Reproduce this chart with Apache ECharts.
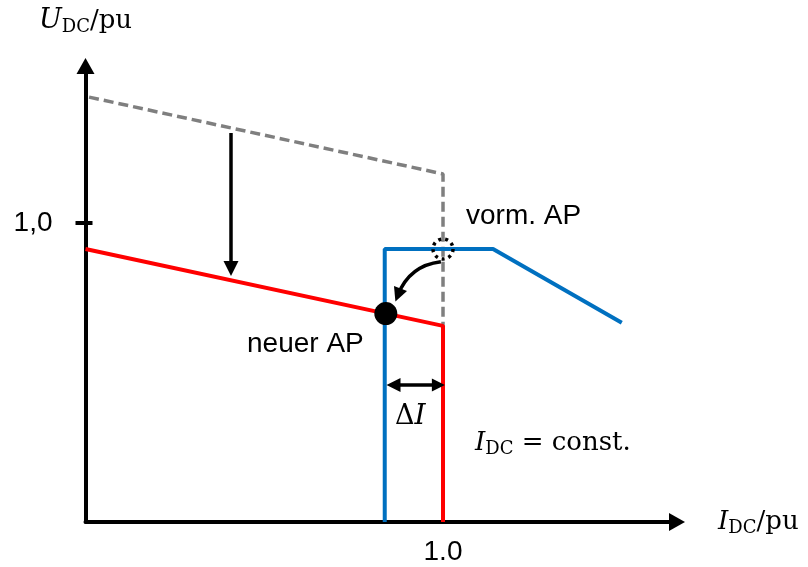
<!DOCTYPE html>
<html>
<head>
<meta charset="utf-8">
<script src="https://cdn.jsdelivr.net/npm/echarts@6/dist/echarts.min.js"></script>
<style>
  html, body { margin: 0; padding: 0; background: #ffffff; }
  #chart { width: 808px; height: 567px; }
</style>
</head>
<body>
<div id="chart"></div>
<script>
// Characteristics in per-unit: [I_DC, U_DC]
const oldCharacteristic = [[0.01, 1.421], [1.0, 1.164], [1.0, 0.652]];
const newCharacteristic = [[0.0, 0.913], [1.0, 0.656], [1.0, 0.0]];
const stationCharacteristic = [[0.837, 0.0], [0.837, 0.913], [1.14, 0.913], [1.50, 0.666]];
const previousPoint = [[1.0, 0.913]];
const newPoint = [[0.84, 0.697]];
const shiftArrow = [[0.407, 1.301], [0.407, 0.848]];
const deltaArrow = [[0.8615, 0.458], [0.987, 0.458]];
const moveArrow = [[0.994, 0.870], [0.874, 0.759]];
const xTickValues = [1];
const yTickValues = [1];
const xTickLabels = ['1.0'];
const yTickLabels = ['1,0'];

const serif = '"DejaVu Serif", "Liberation Serif", serif';
const sans = '"Liberation Sans", Arial, sans-serif';

const chart = echarts.init(document.getElementById('chart'), null, { renderer: 'canvas' });

const axisLineStyle = { color: '#000000', width: 4 };

chart.setOption({
  animation: false,
  backgroundColor: '#ffffff',
  grid: { left: 85.5, top: 66, width: 591.5, height: 456 },
  xAxis: {
    type: 'value', min: 0, max: 1.6545,
    splitLine: { show: false },
    axisTick: { show: false },
    axisLine: { show: true, onZero: false, lineStyle: axisLineStyle,
      symbol: ['none', 'triangle'], symbolSize: [18, 16] },
    axisLabel: {
      customValues: xTickValues,
      formatter: v => xTickLabels[xTickValues.indexOf(v)] || '',
      fontFamily: sans, fontSize: 28, color: '#000', margin: 16
    },
    name: '{i|I}{s|DC}{n|/pu}',
    nameLocation: 'end',
    nameGap: 41,
    nameTextStyle: {
      rich: {
        i: { fontFamily: serif, fontStyle: 'italic', fontSize: 26, lineHeight: 30, color: '#000' },
        s: { fontFamily: serif, fontSize: 18, lineHeight: 16, verticalAlign: 'bottom', color: '#000' },
        n: { fontFamily: serif, fontSize: 26, lineHeight: 30, color: '#000' }
      }
    }
  },
  yAxis: [{
    type: 'value', min: 0, max: 1.525,
    splitLine: { show: false },
    axisLine: { show: true, onZero: false, lineStyle: axisLineStyle,
      symbol: ['none', 'triangle'], symbolSize: [18, 16] },
    axisTick: { show: true, customValues: yTickValues, length: 10, inside: false,
      lineStyle: { color: '#000', width: 4 } },
    axisLabel: {
      customValues: yTickValues,
      formatter: v => yTickLabels[yTickValues.indexOf(v)] || '',
      fontFamily: sans, fontSize: 28, color: '#000', margin: 33
    },
    name: '{i|U}{s|DC}{n|/pu}',
    nameLocation: 'end',
    nameGap: 30,
    nameTextStyle: {
      rich: {
        i: { fontFamily: serif, fontStyle: 'italic', fontSize: 27, lineHeight: 30, color: '#000' },
        s: { fontFamily: serif, fontSize: 18, lineHeight: 16, verticalAlign: 'bottom', color: '#000' },
        n: { fontFamily: serif, fontSize: 26, lineHeight: 30, color: '#000' }
      }
    }
  }, {
    // inner half of the 1,0 tick mark
    type: 'value', min: 0, max: 1.525, position: 'left',
    splitLine: { show: false },
    axisLine: { show: false },
    axisLabel: { show: false },
    axisTick: { show: true, customValues: yTickValues, length: 7, inside: true,
      lineStyle: { color: '#000', width: 4 } }
  }],
  series: [
    {
      name: 'vorher', type: 'line', data: oldCharacteristic, showSymbol: false, z: 2,
      lineStyle: { color: '#7f7f7f', width: 3.5, type: [10, 5], cap: 'butt' }
    },
    {
      name: 'neu', type: 'line', data: newCharacteristic, showSymbol: false, z: 3,
      lineStyle: { color: '#ff0000', width: 4 }
    },
    {
      name: 'Station', type: 'line', data: stationCharacteristic, showSymbol: false, z: 3,
      lineStyle: { color: '#0070c0', width: 4 }
    },
    {
      name: 'neuer AP', type: 'scatter', data: newPoint, symbol: 'circle', symbolSize: 23, z: 5,
      itemStyle: { color: '#000000', opacity: 1 }
    },
    {
      name: 'vorm. AP', type: 'scatter', data: previousPoint, symbol: 'circle', symbolSize: 20, z: 5,
      itemStyle: { color: 'rgba(0,0,0,0)', opacity: 1, borderColor: '#000000', borderWidth: 3.5, borderType: [3, 4] }
    },
    {
      name: 'Verschiebung', type: 'lines', coordinateSystem: 'cartesian2d', z: 4,
      symbol: ['none', 'triangle'], symbolSize: [16, 15],
      lineStyle: { color: '#000', width: 3.5, opacity: 1 },
      data: [{ coords: shiftArrow }]
    },
    {
      name: 'Delta I', type: 'lines', coordinateSystem: 'cartesian2d', z: 4,
      symbol: ['triangle', 'triangle'], symbolSize: [14, 13],
      lineStyle: { color: '#000', width: 3.5, opacity: 1 },
      data: [{ coords: deltaArrow }]
    },
    {
      name: 'Übergang', type: 'lines', coordinateSystem: 'cartesian2d', z: 4,
      symbol: ['none', 'triangle'], symbolSize: [15, 14],
      lineStyle: { color: '#000', width: 3.5, opacity: 1, curveness: -0.3 },
      data: [{ coords: moveArrow }]
    }
  ],
  graphic: [
    { type: 'text', left: 466, top: 202, style: { text: 'vorm. AP', font: '28px ' + sans, fill: '#000' } },
    { type: 'text', left: 247, top: 330, style: { text: 'neuer AP', font: '28px ' + sans, fill: '#000' } },
    { type: 'text', left: 395, top: 403, style: {
        text: '{d|Δ}{i|I}',
        rich: {
          d: { fontFamily: serif, fontSize: 27, fill: '#000' },
          i: { fontFamily: serif, fontStyle: 'italic', fontSize: 28, fill: '#000' }
        } } },
    { type: 'text', left: 475, top: 430, style: {
        text: '{i|I}{s|DC}{n| = const.}',
        rich: {
          i: { fontFamily: serif, fontStyle: 'italic', fontSize: 26, lineHeight: 30, fill: '#000' },
          s: { fontFamily: serif, fontSize: 18, lineHeight: 16, verticalAlign: 'bottom', fill: '#000' },
          n: { fontFamily: serif, fontSize: 26, lineHeight: 30, fill: '#000' }
        } } }
  ]
});
</script>
</body>
</html>
